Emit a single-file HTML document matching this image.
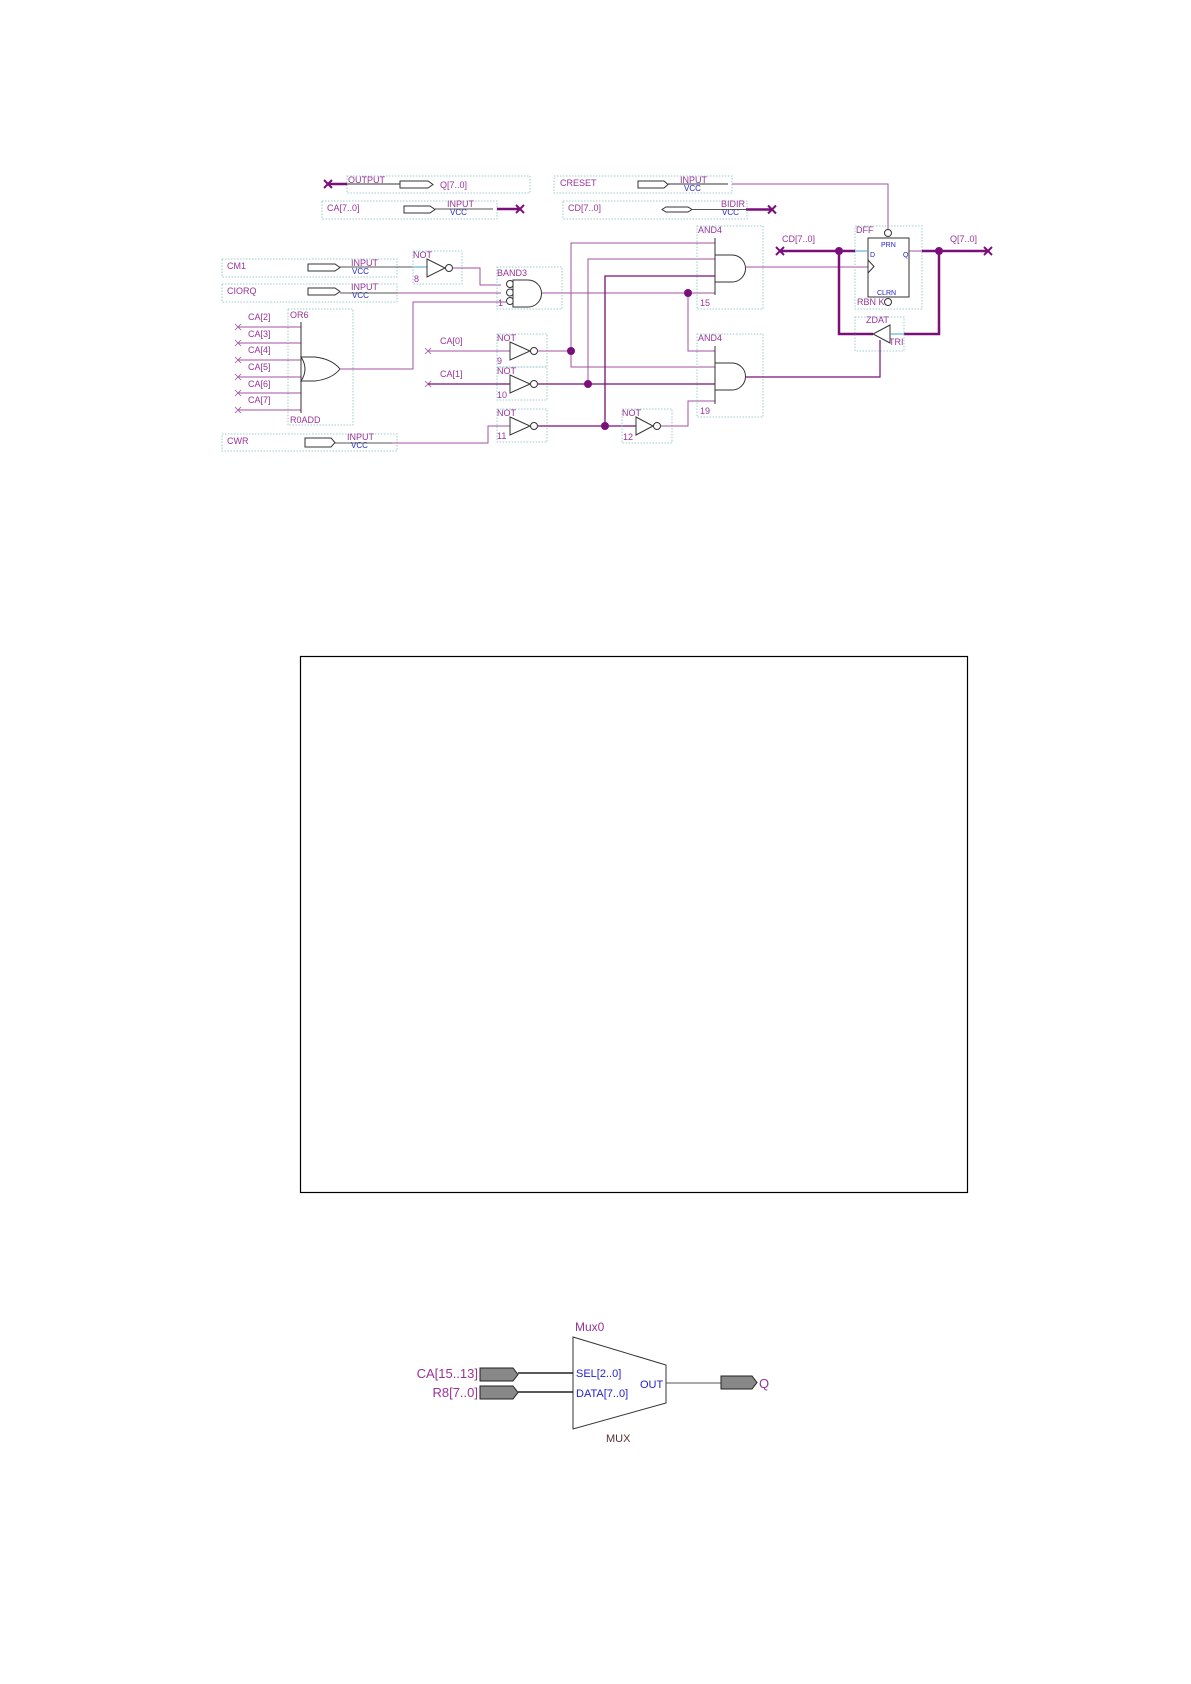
<!DOCTYPE html>
<html><head><meta charset="utf-8"><style>
html,body{margin:0;padding:0;background:#fff;}
svg{display:block;}
text{font-family:"Liberation Sans",sans-serif;}
.l{fill:#993399;font-size:9px;}
.b{fill:#2222cc;font-size:8px;}
.box{fill:none;stroke:#7fbfbf;stroke-width:0.8;stroke-dasharray:1.5,1.5;}
.w{fill:none;stroke:#a050a0;stroke-width:1;}
.W{fill:none;stroke:#7a0f7a;stroke-width:2.5;}
.g{fill:#fff;stroke:#333;stroke-width:1;}
.c{stroke:#4aa0c8;stroke-width:1;}
</style></head><body>
<svg width="1191" height="1684" viewBox="0 0 1191 1684" xmlns="http://www.w3.org/2000/svg">
<rect class="box" x="347" y="176" width="183" height="17"/>
<text class="l" x="348" y="183">OUTPUT</text>
<line class="W" x1="328" y1="184" x2="347" y2="184"/>
<line x1="347" y1="184" x2="400" y2="184" stroke="#333"/>
<path class="g" d="M400 181 H428 L433 184.5 L428 188 H400 Z"/>
<text class="l" x="440" y="188">Q[7..0]</text>
<path d="M324 180 L332 188 M332 180 L324 188" stroke="#7a0f7a" stroke-width="2"/>
<rect class="box" x="322" y="201" width="175" height="18"/>
<text class="l" x="327" y="211">CA[7..0]</text>
<path class="g" d="M404 206 H430 L435 209.5 L430 213 H404 Z"/>
<text class="l" x="447" y="207">INPUT</text><text class="b" x="450" y="215">VCC</text>
<line x1="435" y1="209" x2="493" y2="209" stroke="#555"/>
<line class="W" x1="497" y1="209" x2="520" y2="209"/>
<path d="M516 205 L524 213 M524 205 L516 213" stroke="#7a0f7a" stroke-width="2"/>
<rect class="box" x="554" y="176" width="178" height="17"/>
<text class="l" x="560" y="186">CRESET</text>
<path class="g" d="M638 181 H664 L668 184.5 L664 188 H638 Z"/>
<text class="l" x="680" y="183">INPUT</text><text class="b" x="684" y="191">VCC</text>
<line x1="668" y1="184" x2="728" y2="184" stroke="#333"/>
<path class="w" d="M732 184 H888 V229"/>
<rect class="box" x="563" y="201" width="184" height="18"/>
<text class="l" x="568" y="211">CD[7..0]</text>
<path class="g" d="M662 209.5 L666 207 H688 L692 209.5 L688 212 H666 Z"/>
<text class="l" x="721" y="207">BIDIR</text><text class="b" x="722" y="215">VCC</text>
<line x1="692" y1="209.5" x2="746" y2="209.5" stroke="#555"/>
<line class="W" x1="746" y1="209.5" x2="772" y2="209.5"/>
<path d="M768 205.5 L776 213.5 M776 205.5 L768 213.5" stroke="#7a0f7a" stroke-width="2"/>
<rect class="box" x="222" y="259" width="175" height="18"/>
<text class="l" x="227" y="269">CM1</text>
<path class="g" d="M308 264 H335 L340 267.5 L335 271 H308 Z"/>
<text class="l" x="351" y="266">INPUT</text><text class="b" x="352" y="274">VCC</text>
<line x1="340" y1="267" x2="413" y2="267" stroke="#555"/>
<rect class="box" x="413" y="251" width="49" height="33"/>
<text class="l" x="413" y="258">NOT</text><text class="l" x="414" y="282">8</text>
<line class="c" x1="413" y1="267" x2="427" y2="267"/>
<path class="g" d="M427 259 L445 268 L427 277 Z"/><circle class="g" cx="449" cy="268" r="3.5"/>
<path class="w" d="M453 268 H480 V285 H501"/>
<rect class="box" x="222" y="284" width="175" height="18"/>
<text class="l" x="227" y="294">CIORQ</text>
<path class="g" d="M308 288 H335 L340 291.5 L335 295 H308 Z"/>
<text class="l" x="351" y="290">INPUT</text><text class="b" x="352" y="298">VCC</text>
<line x1="340" y1="293" x2="397" y2="293" stroke="#555"/>
<line class="w" x1="397" y1="293" x2="501" y2="293"/>
<rect class="box" x="497" y="267" width="65" height="42"/>
<text class="l" x="497" y="276">BAND3</text><text class="l" x="498" y="306">1</text>
<circle class="g" cx="510" cy="284" r="3.5"/><circle class="g" cx="510" cy="292.5" r="3.5"/><circle class="g" cx="510" cy="301" r="3.5"/>
<path class="g" d="M513 280 H528 A13.5 13.5 0 0 1 528 307 H513 Z"/>
<path class="w" d="M542 293 H715"/>
<rect class="box" x="288" y="309" width="65" height="116"/>
<text class="l" x="290" y="318">OR6</text><text class="l" x="290" y="423">R0ADD</text>
<g class="l">
<text x="248" y="320">CA[2]</text><text x="248" y="337">CA[3]</text><text x="248" y="353">CA[4]</text>
<text x="248" y="370">CA[5]</text><text x="248" y="387">CA[6]</text><text x="248" y="403">CA[7]</text>
</g>
<g stroke="#a050a0" stroke-width="1">
<line x1="238" y1="327" x2="301" y2="327"/><line x1="238" y1="343" x2="301" y2="343"/>
<line x1="238" y1="360" x2="301" y2="360"/><line x1="238" y1="377" x2="301" y2="377"/>
<line x1="238" y1="393" x2="301" y2="393"/><line x1="238" y1="410" x2="301" y2="410"/>
</g>
<g stroke="#a050a0" stroke-width="0.8">
<path d="M235 324 L241 330 M241 324 L235 330"/><path d="M235 340 L241 346 M241 340 L235 346"/>
<path d="M235 357 L241 363 M241 357 L235 363"/><path d="M235 374 L241 380 M241 374 L235 380"/>
<path d="M235 390 L241 396 M241 390 L235 396"/><path d="M235 407 L241 413 M241 407 L235 413"/>
</g>
<line x1="301" y1="322" x2="301" y2="413" stroke="#333"/>
<path class="g" d="M301 357 H315 Q332 359 340 369 Q332 379 315 381 H301 Q309 369 301 357 Z"/>
<path class="w" d="M340 369 H413 V302 H506"/>
<rect class="box" x="222" y="434" width="175" height="17"/>
<text class="l" x="227" y="444">CWR</text>
<path class="g" d="M305 438 H331 L335 442.5 L331 447 H305 Z"/>
<text class="l" x="347" y="440">INPUT</text><text class="b" x="351" y="448">VCC</text>
<line x1="335" y1="443" x2="392" y2="443" stroke="#555"/>
<path class="w" d="M392 443 H488 V426 H510"/>
<rect class="box" x="497" y="334" width="50" height="33"/>
<text class="l" x="497" y="341">NOT</text><text class="l" x="497" y="364">9</text>
<text class="l" x="440" y="344">CA[0]</text>
<path d="M425 348 L431 354 M431 348 L425 354" stroke="#a050a0" stroke-width="0.8"/>
<line class="w" x1="428" y1="351" x2="510" y2="351"/>
<path class="g" d="M510 342 L530 351 L510 360 Z"/><circle class="g" cx="534" cy="351" r="3.5"/>
<line class="w" x1="538" y1="351" x2="571" y2="351"/>
<rect class="box" x="497" y="367" width="50" height="33"/>
<text class="l" x="497" y="374">NOT</text><text class="l" x="497" y="398">10</text>
<text class="l" x="440" y="377">CA[1]</text>
<path d="M425 381 L431 387 M431 381 L425 387" stroke="#a050a0" stroke-width="0.8"/>
<line x1="428" y1="384" x2="510" y2="384" stroke="#7a0f7a" stroke-width="1.3"/>
<path class="g" d="M510 375 L530 384 L510 393 Z"/><circle class="g" cx="534" cy="384" r="3.5"/>
<line x1="538" y1="384" x2="715" y2="384" stroke="#7a0f7a" stroke-width="1.3"/>
<rect class="box" x="497" y="409" width="50" height="33"/>
<text class="l" x="497" y="416">NOT</text><text class="l" x="497" y="439">11</text>
<path class="g" d="M510 417 L530 426 L510 435 Z"/><circle class="g" cx="534" cy="426" r="3.5"/>
<line x1="538" y1="426" x2="636" y2="426" stroke="#7a0f7a" stroke-width="1.3"/>
<path class="w" d="M715 243 H571 V367 H715"/>
<path class="w" d="M715 259 H588 V384"/>
<path d="M715 276 H605 V426" fill="none" stroke="#7a0f7a" stroke-width="1.3"/>
<path class="w" d="M688 293 V351 H715"/>
<g fill="#7a0f7a"><circle cx="571" cy="351" r="4"/><circle cx="588" cy="384" r="4"/><circle cx="605" cy="426" r="4"/><circle cx="688" cy="293" r="4"/><circle cx="839" cy="251" r="4"/><circle cx="939" cy="251" r="4"/></g>
<rect class="box" x="622" y="409" width="50" height="34"/>
<text class="l" x="622" y="416">NOT</text><text class="l" x="623" y="440">12</text>
<path class="g" d="M636 417 L653 426 L636 435 Z"/><circle class="g" cx="657" cy="426" r="3.5"/>
<path class="w" d="M661 426 H688 V401 H715"/>
<rect class="box" x="697" y="226" width="66" height="83"/>
<text class="l" x="698" y="233">AND4</text><text class="l" x="700" y="306">15</text>
<line x1="715" y1="238" x2="715" y2="295" stroke="#333"/>
<path class="g" d="M715 255 H732 A13.5 13.5 0 0 1 732 282 H715 Z"/>
<path class="w" d="M746 267 H868"/>
<rect class="box" x="697" y="334" width="66" height="83"/>
<text class="l" x="698" y="341">AND4</text><text class="l" x="700" y="414">19</text>
<line x1="715" y1="346" x2="715" y2="404" stroke="#333"/>
<path class="g" d="M715 363 H732 A13.5 13.5 0 0 1 732 390 H715 Z"/>
<path d="M746 377 H880 V340" fill="none" stroke="#7a0f7a" stroke-width="1.2"/>
<rect class="box" x="855" y="226" width="67" height="83"/>
<text class="l" x="856" y="233">DFF</text>
<rect x="868" y="238" width="41" height="59" fill="#fff" stroke="#333"/>
<circle class="g" cx="888" cy="233" r="3.5"/><circle class="g" cx="888" cy="302" r="3.5"/>
<path d="M868 260 L874 266.5 L868 273" fill="none" stroke="#333"/>
<text class="b" x="881" y="247" style="font-size:7px">PRN</text>
<text class="b" x="870" y="257" style="font-size:7px">D</text><text class="b" x="903" y="257" style="font-size:7px">Q</text>
<text class="b" x="877" y="295" style="font-size:7px">CLRN</text>
<text class="l" x="857" y="305">RBN K</text>
<text class="l" x="782" y="242">CD[7..0]</text><text class="l" x="950" y="242">Q[7..0]</text>
<line class="W" x1="780" y1="251" x2="855" y2="251"/>
<line class="c" x1="855" y1="251" x2="868" y2="251"/>
<line class="w" x1="909" y1="251" x2="922" y2="251"/>
<line class="W" x1="922" y1="251" x2="988" y2="251"/>
<path d="M776 247 L784 255 M784 247 L776 255" stroke="#7a0f7a" stroke-width="2"/>
<path d="M984 247 L992 255 M992 247 L984 255" stroke="#7a0f7a" stroke-width="2"/>
<path class="W" d="M839 251 V334 H873"/>
<path class="W" d="M939 251 V334 H904"/>
<rect class="box" x="855" y="317" width="49" height="34"/>
<text class="l" x="866" y="323">ZDAT</text><text class="l" x="889" y="345">TRI</text>
<path class="g" d="M890 325 L873 334 L890 343 Z"/>
<line class="c" x1="890" y1="334" x2="904" y2="334"/>
<rect x="300.5" y="656.5" width="667" height="536" fill="none" stroke="#000" stroke-width="1.2"/>
<text x="575" y="1331" fill="#993399" style="font-size:12px">Mux0</text>
<path d="M573 1337 L666 1365 V1403 L573 1429 Z" fill="#fff" stroke="#333"/>
<text x="478" y="1378" text-anchor="end" fill="#993399" font-size="13">CA[15..13]</text>
<text x="478" y="1397" text-anchor="end" fill="#993399" font-size="13">R8[7..0]</text>
<path d="M480 1368 H513 L518 1374.5 L513 1381 H480 Z" fill="#888" stroke="#222"/>
<path d="M480 1386 H513 L518 1392.5 L513 1399 H480 Z" fill="#888" stroke="#222"/>
<line x1="518" y1="1373" x2="573" y2="1373" stroke="#222" stroke-width="1.5"/>
<line x1="518" y1="1392" x2="573" y2="1392" stroke="#222" stroke-width="1.5"/>
<text x="576" y="1377" fill="#2222cc" font-size="11">SEL[2..0]</text>
<text x="576" y="1397" fill="#2222cc" font-size="11">DATA[7..0]</text>
<text x="640" y="1388" fill="#2222cc" font-size="11">OUT</text>
<line x1="666" y1="1383" x2="721" y2="1383" stroke="#555"/>
<path d="M721 1376 H752 L757 1382.5 L752 1389 H721 Z" fill="#888" stroke="#222"/>
<text x="759" y="1388" fill="#993399" font-size="13">Q</text>
<text x="606" y="1442" fill="#553333" font-size="11">MUX</text>
</svg>
</body></html>
